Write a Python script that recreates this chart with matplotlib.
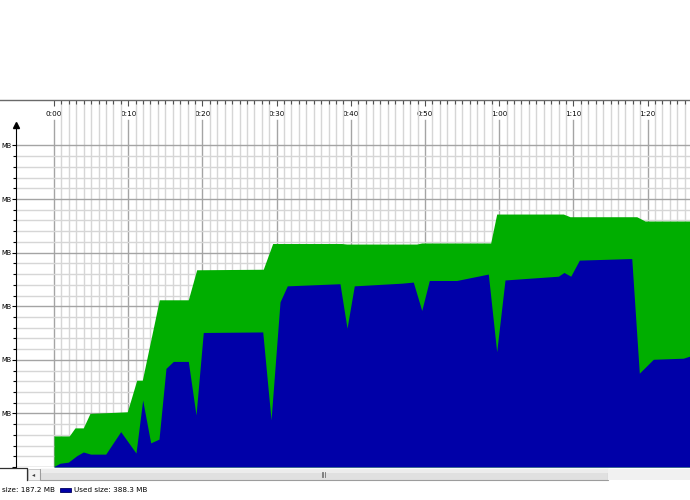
# --[libraries]----------------------------------------------------------------
import matplotlib
matplotlib.use('Agg')
import matplotlib.pyplot as plt
from matplotlib.patches import Rectangle


# --[data]---------------------------------------------------------------------
# time in minutes since start, memory in MB
heap_t = [0, 2.06, 2.83, 3.95, 4.85, 9.88, 11.15, 11.9, 14.19, 18.1, 19.23,
          28.2, 29.47, 38.77, 39.45, 48.88, 49.56, 58.85, 59.66, 68.64,
          69.54, 78.53, 79.65, 85.7]
heap_mb = [58, 58, 73, 73, 100, 103, 162, 162, 312, 312, 368, 369, 417, 417,
           416, 416, 418, 418, 472, 472, 467, 467, 459, 459]

used_t = [0, 0.81, 1.93, 3.06, 3.95, 4.95, 6.97, 8.99, 11.05, 11.95, 13.03,
          14.15, 15.09, 16.08, 18.1, 19.14, 20.12, 28.13, 29.25, 30.46, 31.44,
          38.54, 39.49, 40.47, 46.86, 48.42, 49.56, 50.58, 54.27, 58.53, 59.66,
          60.78, 67.97, 68.73, 69.64, 70.8, 77.86, 78.88, 80.77, 84.81, 85.7]
used_mb = [1, 7, 9, 21, 28, 24, 24, 66, 26, 125, 45, 52, 184, 197, 197, 97,
           251, 252, 88, 308, 338, 342, 259, 338, 343, 345, 292, 348, 348, 360,
           215, 349, 356, 363, 356, 386, 389, 175, 201, 203, 207]

time_ticks = [0, 10, 20, 30, 40, 50, 60, 70, 80]
time_labels = ['0:00', '0:10', '0:20', '0:30', '0:40', '0:50', '1:00', '1:10', '1:20']
mb_ticks = [0, 100, 200, 300, 400, 500, 600]
mb_labels = ['', 'MB', 'MB', 'MB', 'MB', 'MB', 'MB']

heap_label = 'size: 187.2 MB'
used_label = 'Used size: 388.3 MB'

GREEN = '#00ae00'
BLUE = '#0000a8'
MAJOR_GRID = '#a4a4a4'
MINOR_GRID = '#d6d6d6'
FS = 5.2


# --[figure and main axes]-----------------------------------------------------
fig = plt.figure(figsize=(6.9, 5.0), dpi=100)
ax = fig.add_axes([16 / 690, 33 / 500, 674 / 690, 367 / 500])
ax.set_xlim(-5.12, 85.71)
ax.set_ylim(0, 684.8)

for side in ['top', 'right', 'bottom']:
    ax.spines[side].set_visible(False)
ax.spines['left'].set_bounds(0, 636)
ax.spines['left'].set_color('black')

# time axis sits at the top, ticks point into the plot
ax.set_xticks(time_ticks)
ax.set_xticklabels(time_labels)
ax.set_xticks(range(0, 86), minor=True)
ax.tick_params(axis='x', which='both', bottom=False, labelbottom=False,
               top=True, labeltop=True, direction='in', color='#505050',
               labelsize=FS, pad=-12)
ax.tick_params(axis='x', which='major', length=4.5, width=0.8)
ax.tick_params(axis='x', which='minor', length=3, width=0.8)

ax.set_yticks(mb_ticks)
ax.set_yticklabels(mb_labels)
ax.set_yticks([v for v in range(0, 601, 20) if v % 100], minor=True)
ax.tick_params(axis='y', which='both', direction='out', labelsize=4.8, pad=0.4)
ax.tick_params(axis='y', which='major', length=3.2, width=0.8)
ax.tick_params(axis='y', which='minor', length=2.0, width=0.8)

# arrow head on the y axis
ax.plot([0], [639], marker='^', ms=5, color='black', clip_on=False,
        transform=ax.get_yaxis_transform(), zorder=5)


# --[grid]---------------------------------------------------------------------
ax.grid(axis='y', which='major', color=MAJOR_GRID, lw=1, zorder=0)
ax.grid(axis='y', which='minor', color=MINOR_GRID, lw=1, zorder=0)
ax.grid(axis='x', which='minor', color=MINOR_GRID, lw=1, zorder=0)
for t in time_ticks:
    ax.axvline(t, ymax=0.945, color=MAJOR_GRID, lw=1, zorder=0.5)
ax.set_axisbelow(True)


# --[memory areas]-------------------------------------------------------------
ax.fill_between(heap_t, heap_mb, color=GREEN, lw=0, zorder=2)
ax.fill_between(used_t, used_mb, color=BLUE, lw=0, zorder=3)


# --[window chrome: top rule, scrollbar, legend]-------------------------------
ov = fig.add_axes([0, 0, 1, 1])
ov.set_xlim(0, 690)
ov.set_ylim(500, 0)
ov.axis('off')

ov.plot([0, 690], [100, 100], color='#6a6a6a', lw=1)

ov.plot([0, 27, 27], [468, 468, 480], color='#303030', lw=0.9)
ov.add_patch(Rectangle((28, 468.5), 12, 11, fc='#f2f2f2', ec='#c0c0c0', lw=0.6))
ov.text(34, 474.5, '◂', fontsize=4.5, ha='center', va='center', color='#404040')
ov.add_patch(Rectangle((40, 468.5), 568, 11, fc='#e0e0e0', ec='#9c9c9c', lw=0.8))
ov.add_patch(Rectangle((40.5, 469), 567, 4, fc='#ececec', ec='none'))
ov.add_patch(Rectangle((608, 468.5), 82, 11, fc='#f1f1f1', ec='none'))
for gx in [321.5, 323, 324.5]:
    ov.plot([gx, gx], [472, 476.5], color='#707070', lw=0.6)

ov.text(1.5, 490, heap_label, fontsize=FS, va='center', ha='left')
ov.add_patch(Rectangle((60, 487.5), 11, 4, fc=BLUE, ec='#000060', lw=0.6))
ov.text(74, 490, used_label, fontsize=FS, va='center', ha='left')

fig.savefig('out.png', dpi=100)
